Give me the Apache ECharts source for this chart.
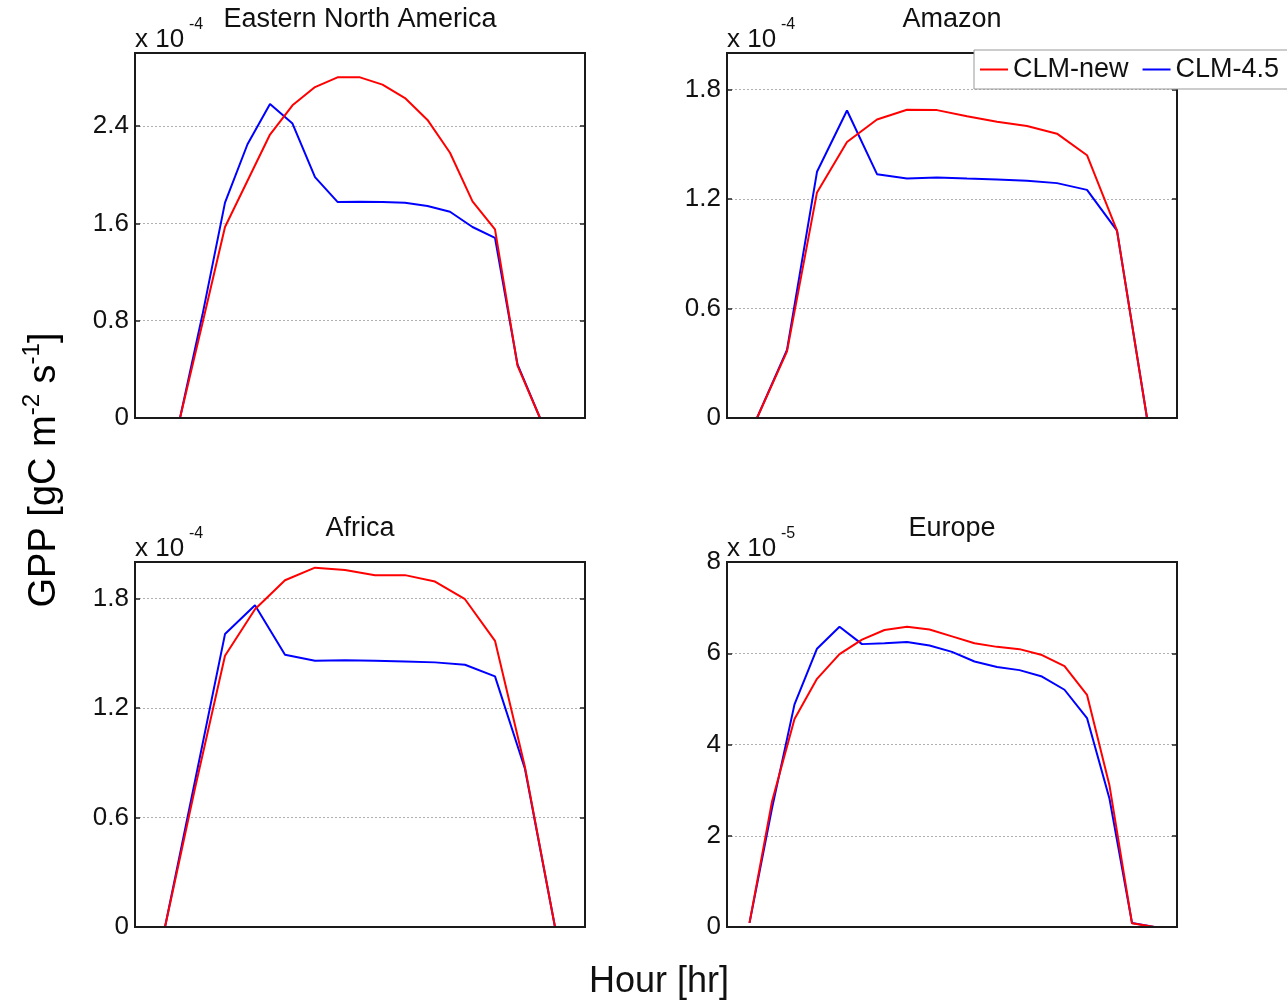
<!DOCTYPE html>
<html>
<head>
<meta charset="utf-8">
<script src="https://cdn.jsdelivr.net/npm/echarts@6/dist/echarts.min.js"></script>
<style>
html,body{margin:0;padding:0;background:#fff;}
#chart{width:1287px;height:1002px;}
</style>
</head>
<body>
<div id="chart"></div>
<script>
// ---------- data ----------
const regionNames = ['Eastern North America', 'Amazon', 'Africa', 'Europe'];
const seriesNames = ['CLM-new', 'CLM-4.5'];

// hour positions of the samples (x axis has no tick labels)
const hoursENA    = [2, 3, 4, 5, 6, 7, 8, 9, 10, 11, 12, 13, 14, 15, 16, 17, 18];
const hoursAmazon = [1, 2, 3, 4, 5, 6, 7, 8, 9, 10, 11, 12, 13, 14];
const hoursAfrica = [1, 2, 3, 4, 5, 6, 7, 8, 9, 10, 11, 12, 13, 14];
const hoursEurope = [1, 2, 3, 4, 5, 6, 7, 8, 9, 10, 11, 12, 13, 14, 15, 16, 17, 18, 19];

// GPP values (ENA/Amazon/Africa in 1e-4, Europe in 1e-5 gC m-2 s-1)
const enaNew     = [0, 0.78, 1.57, 1.95, 2.33, 2.57, 2.72, 2.80, 2.80, 2.74, 2.63, 2.45, 2.18, 1.78, 1.55, 0.43, 0];
const ena45      = [0, 0.85, 1.77, 2.25, 2.58, 2.42, 1.98, 1.776, 1.778, 1.775, 1.77, 1.743, 1.695, 1.57, 1.48, 0.44, 0];
const amazonNew  = [0, 0.365, 1.236, 1.512, 1.636, 1.689, 1.687, 1.654, 1.623, 1.60, 1.558, 1.44, 1.027, 0];
const amazon45   = [0, 0.373, 1.349, 1.685, 1.336, 1.312, 1.318, 1.312, 1.307, 1.30, 1.287, 1.25, 1.027, 0];
const africaNew  = [0, 0.76, 1.486, 1.741, 1.90, 1.969, 1.956, 1.928, 1.928, 1.893, 1.796, 1.568, 0.875, 0];
const africa45   = [0, 0.80, 1.605, 1.763, 1.492, 1.459, 1.462, 1.459, 1.455, 1.45, 1.437, 1.373, 0.866, 0];
const europeNew  = [0.09, 2.75, 4.56, 5.44, 5.98, 6.30, 6.51, 6.58, 6.52, 6.37, 6.22, 6.14, 6.09, 5.96, 5.72, 5.09, 3.10, 0.08, 0];
const europe45   = [0.09, 2.6, 4.88, 6.10, 6.58, 6.20, 6.22, 6.245, 6.17, 6.03, 5.82, 5.70, 5.63, 5.49, 5.20, 4.58, 2.81, 0.09, 0];

// axis settings
const xMax      = [20, 15, 15, 20];
const yMax      = [3.0, 2.0, 2.0, 8];
const yInterval = [0.8, 0.6, 0.6, 2];
const exponents = ['-4', '-4', '-4', '-5'];
const xLabel = 'Hour [hr]';

// ---------- layout ----------
const FONT = '"Liberation Sans", Arial, Helvetica, sans-serif';
const TXT = '#111';
const panels = [
  {left: 135, top: 53},
  {left: 727, top: 53},
  {left: 135, top: 562},
  {left: 727, top: 562}
];
const PW = 450, PH = 365;

const hours = [hoursENA, hoursAmazon, hoursAfrica, hoursEurope];
const newVals = [enaNew, amazonNew, africaNew, europeNew];
const oldVals = [ena45, amazon45, africa45, europe45];
const colors = ['#ff0000', '#0000ff'];

const grids = [], xAxes = [], yAxes = [], series = [], graphics = [];

function fmt(v) {
  if (Math.abs(v) < 1e-9) return '0';
  return String(+v.toFixed(2));
}

panels.forEach((p, i) => {
  grids.push({
    left: p.left, top: p.top, width: PW, height: PH,
    show: true, backgroundColor: 'transparent', borderColor: '#1a1a1a', borderWidth: 2, z: 10
  });
  xAxes.push({
    gridIndex: i, type: 'value', min: 0, max: xMax[i],
    axisLine: {show: false}, axisTick: {show: false},
    axisLabel: {show: false}, splitLine: {show: false}
  });
  yAxes.push({
    gridIndex: i, type: 'value', position: 'left',
    min: 0, max: yMax[i], interval: yInterval[i],
    axisLine: {show: false},
    axisTick: {show: true, inside: true, length: 5, lineStyle: {color: '#222', width: 1.5}},
    axisLabel: {
      show: true, fontSize: 26, fontFamily: FONT, color: TXT, margin: 6,
      showMaxLabel: i === 3, formatter: fmt
    },
    splitLine: {show: true, lineStyle: {color: '#b0b0b0', width: 1, type: [2, 2]}}
  });
  yAxes.push({
    gridIndex: i, type: 'value', position: 'right',
    min: 0, max: yMax[i], interval: yInterval[i],
    axisLine: {show: false},
    axisTick: {show: true, inside: true, length: 5, lineStyle: {color: '#222', width: 1.5}},
    axisLabel: {show: false}, splitLine: {show: false}
  });
  [newVals[i], oldVals[i]].forEach((vals, k) => {
    series.push({
      type: 'line', name: seriesNames[k],
      xAxisIndex: i, yAxisIndex: 2 * i,
      data: hours[i].map((h, j) => [h, vals[j]]),
      symbol: 'none', showSymbol: false,
      lineStyle: {color: colors[k], width: 2},
      itemStyle: {color: colors[k]},
      z: 3 - k,
      animation: false
    });
  });
  // title
  graphics.push({
    type: 'text', x: p.left + PW / 2, y: p.top - 33,
    style: {text: regionNames[i], fontSize: 27, fontFamily: FONT, fill: TXT,
            align: 'center', verticalAlign: 'middle'}
  });
  // exponent label "x 10^-n"
  graphics.push({
    type: 'text', x: p.left, y: p.top - 13,
    style: {text: 'x 10', fontSize: 26, fontFamily: FONT, fill: TXT,
            align: 'left', verticalAlign: 'middle'}
  });
  graphics.push({
    type: 'text', x: p.left + 54, y: p.top - 28,
    style: {text: exponents[i], fontSize: 16, fontFamily: FONT, fill: TXT,
            align: 'left', verticalAlign: 'middle'}
  });
});

// shared axis labels
graphics.push({
  type: 'text', x: 659, y: 982,
  style: {text: xLabel, fontSize: 36, fontFamily: FONT, fill: TXT,
          align: 'center', verticalAlign: 'middle'}
});
graphics.push({
  type: 'text', x: 42, y: 470, rotation: Math.PI / 2,
  style: {
    text: '{b|GPP [gC m}{s|-2}{b| s}{s|-1}{b|]}',
    align: 'center', verticalAlign: 'middle',
    rich: {
      b: {fontSize: 38, fontFamily: FONT, color: TXT, lineHeight: 44, verticalAlign: 'bottom'},
      s: {fontSize: 24, fontFamily: FONT, color: TXT, lineHeight: 26, verticalAlign: 'top'}
    }
  }
});

const chart = echarts.init(document.getElementById('chart'), null, {renderer: 'canvas'});
chart.setOption({
  backgroundColor: '#fff',
  animation: false,
  grid: grids,
  xAxis: xAxes,
  yAxis: yAxes,
  legend: {
    data: seriesNames,
    left: 974, top: 50, width: 400,
    orient: 'horizontal',
    icon: 'rect', itemWidth: 28, itemHeight: 2, itemGap: 14,
    padding: [6, 50, 6, 6],
    backgroundColor: '#fff', borderColor: '#999', borderWidth: 1,
    textStyle: {fontSize: 27, fontFamily: FONT, color: TXT},
    selectedMode: false,
    z: 20
  },
  series: series,
  graphic: {elements: graphics}
});
</script>
</body>
</html>
